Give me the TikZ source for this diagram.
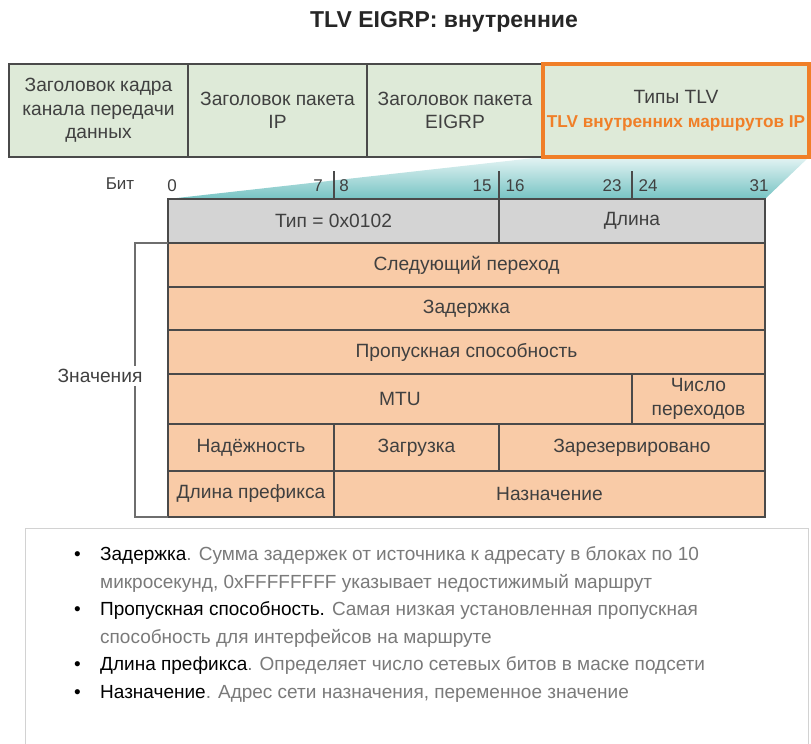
\documentclass[tikz,border=0pt]{standalone}
\usepackage{fontspec}
\setmainfont{Liberation Sans}
\usepackage{xcolor}
\usepackage{tikz}
\usetikzlibrary{positioning,calc,backgrounds,shadows}

\definecolor{hdrgreen}{HTML}{DEEAD8}
\definecolor{fldpeach}{HTML}{F9CBA7}
\definecolor{typegray}{HTML}{D4D4D4}
\definecolor{tlvorange}{HTML}{F07F28}
\definecolor{tealtop}{HTML}{E4F4F4}
\definecolor{tealbot}{HTML}{76C3C3}
\definecolor{cellline}{HTML}{4A4A4A}
\definecolor{celltext}{HTML}{404040}
\definecolor{notegray}{HTML}{7A7A7A}
\definecolor{boxline}{HTML}{D2D2D2}

\begin{document}
\begin{tikzpicture}[
  x=1pt, y=-1pt,
  every node/.style={font=\fontsize{19.2}{23.5}\selectfont, text=celltext},
  hdrcell/.style={rectangle, draw=cellline, line width=2pt, fill=hdrgreen,
                  minimum height=93pt, inner sep=0pt, outer sep=0pt, align=center},
  fldcell/.style={rectangle, draw=cellline, line width=2pt, fill=fldpeach,
                  inner sep=0pt, outer sep=0pt, align=center, anchor=north west},
  typecell/.style={fldcell, fill=typegray},
  bitlbl/.style={font=\fontsize{17}{20}\selectfont, inner sep=0pt},
  bittick/.style={line width=2pt, draw=cellline},
  brace/.style={line width=1.4pt, draw=cellline!80}
]
\useasboundingbox (0,0) rectangle (811,744);

% title
\node[font=\fontsize{23}{27}\selectfont\bfseries, text=black!85] (title) at (444,22) {TLV EIGRP: внутренние};

% encapsulation
\node[hdrcell, minimum width=179pt, anchor=north west] (frame) at (9,64) {Заголовок кадра\\канала передачи\\данных};
\node[hdrcell, minimum width=179pt, right=0pt of frame]    (iphdr)    {Заголовок пакета\\IP};
\node[hdrcell, minimum width=176pt, right=0pt of iphdr]    (eigrphdr) {Заголовок пакета\\EIGRP};
\node[hdrcell, minimum width=266pt, right=0pt of eigrphdr] (tlvtypes) {Типы TLV\\{\fontsize{17.2}{23.5}\selectfont\color{tlvorange}\bfseries TLV внутренних маршрутов IP}};
\draw[tlvorange, line width=4.5pt] (tlvtypes.north west) rectangle (tlvtypes.south east);

% TLV fields
\node[typecell, minimum width=331pt, minimum height=44pt] (typefld) at (168,199)          {Тип = 0x0102};
\node[typecell, minimum width=266pt, minimum height=44pt] (lenfld)  at (typefld.north east) {Длина};
\node[fldcell,  minimum width=597pt, minimum height=44pt] (nexthop) at (typefld.south west) {Следующий переход};
\node[fldcell,  minimum width=597pt, minimum height=43pt] (delay)   at (nexthop.south west) {Задержка};
\node[fldcell,  minimum width=597pt, minimum height=44pt] (bw)      at (delay.south west)   {Пропускная способность};
\node[fldcell,  minimum width=464pt, minimum height=50pt] (mtu)     at (bw.south west)      {MTU};
\node[fldcell,  minimum width=133pt, minimum height=50pt] (hops)    at (mtu.north east)     {Число\\переходов};
\node[fldcell,  minimum width=166pt, minimum height=47pt] (rel)     at (mtu.south west)     {Надёжность};
\node[fldcell,  minimum width=165pt, minimum height=47pt] (load)    at (rel.north east)     {Загрузка};
\node[fldcell,  minimum width=266pt, minimum height=47pt] (resv)    at (load.north east)    {Зарезервировано};
\node[fldcell,  minimum width=166pt, minimum height=46pt] (pfxlen)  at (rel.south west)     {Длина префикса};
\node[fldcell,  minimum width=431pt, minimum height=46pt] (dest)    at (pfxlen.north east)  {Назначение};

% zoom wedge
\begin{scope}[on background layer]
  \shade[top color=tealtop, bottom color=tealbot]
    (tlvtypes.south west) -- (tlvtypes.south east) -- (lenfld.north east) -- (typefld.north west) -- cycle;
\end{scope}

% bit ruler
\node[bitlbl] (bitword) at (120,184) {Бит};
\foreach \lbl/\xx in {0/172, 7/318, 8/344, 15/482, 16/515, 23/612, 24/648, 31/759}
  \node[bitlbl] (bit\lbl) at (\xx,186) {\lbl};
\foreach \pt in {typefld.north, typefld.north east, lenfld.north}
  \draw[bittick] (\pt) -- ++(0,-28);

% values bracket
\node (vals) at (100,376) {Значения};
\draw[brace] (nexthop.north west) -- ++(-33,0) coordinate (bk) -- (bk |- vals.north);
\draw[brace] (bk |- vals.south) -- (bk |- pfxlen.south) -- (pfxlen.south west);

% notes
\node[rectangle, draw=boxline, fill=white, line width=1pt, anchor=north west,
      minimum width=783pt, minimum height=232pt,
      drop shadow={shadow xshift=0pt, shadow yshift=-1pt, opacity=0.25}] (notes) at (25,528) {};
\node[anchor=north west, inner sep=0pt, font=\fontsize{19}{20}\selectfont, text=notegray] (notetext) at (74,541) {%
  \renewcommand{\arraystretch}{1.38}%
  \begin{tabular}{@{}p{26pt}@{}l@{}}
    \textcolor{black}{\textbullet} & \textcolor{black}{Задержка}. Сумма задержек от источника к адресату в блоках по 10 \\
     & микросекунд, 0xFFFFFFFF указывает недостижимый маршрут \\
    \textcolor{black}{\textbullet} & \textcolor{black}{Пропускная способность.} Самая низкая установленная пропускная \\
     & способность для интерфейсов на маршруте \\
    \textcolor{black}{\textbullet} & \textcolor{black}{Длина префикса}. Определяет число сетевых битов в маске подсети \\
    \textcolor{black}{\textbullet} & \textcolor{black}{Назначение}. Адрес сети назначения, переменное значение
  \end{tabular}};

\end{tikzpicture}
\end{document}
